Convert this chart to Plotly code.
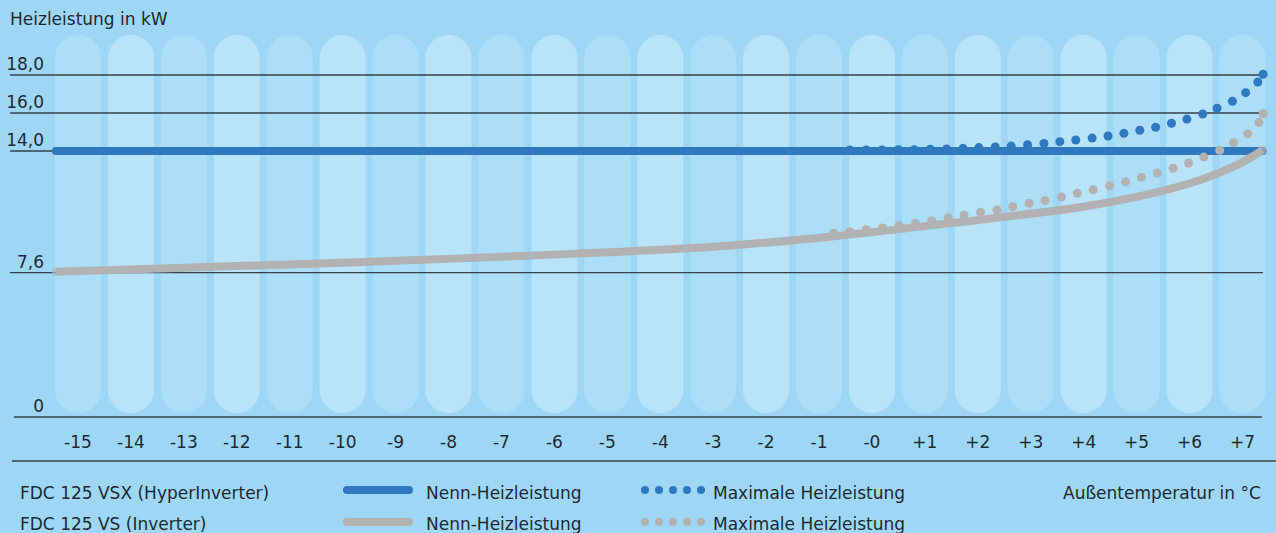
import plotly.graph_objects as go

# ---------------- data ----------------
categories = list(range(-15, 8))
tick_labels = ["-15", "-14", "-13", "-12", "-11", "-10", "-9", "-8", "-7", "-6", "-5",
               "-4", "-3", "-2", "-1", "-0", "+1", "+2", "+3", "+4", "+5", "+6", "+7"]
y_tick_values = [0, 7.6, 14, 16, 18]
y_tick_labels = ["0", "7,6", "14,0", "16,0", "18,0"]

# FDC 125 VSX (HyperInverter) - Nenn-Heizleistung
vsx_nominal_x = [-15.42, 7.38]
vsx_nominal_y = [14.0, 14.0]

# FDC 125 VSX (HyperInverter) - Maximale Heizleistung
vsx_max_x = [-0.42, -0.11, 0.19, 0.50, 0.80, 1.10, 1.41, 1.72, 2.02, 2.33, 2.63, 2.94, 3.25, 3.55,
             3.85, 4.16, 4.46, 4.76, 5.06, 5.36, 5.66, 5.95, 6.25, 6.52, 6.81, 7.06, 7.29, 7.39]
vsx_max_y = [14.05, 14.05, 14.05, 14.07, 14.07, 14.09, 14.11, 14.14, 14.18, 14.21, 14.26, 14.33, 14.40, 14.49,
             14.58, 14.68, 14.79, 14.93, 15.09, 15.25, 15.46, 15.68, 15.95, 16.25, 16.62, 17.07, 17.63, 18.04]

# FDC 125 VS (Inverter) - Nenn-Heizleistung
vs_nominal_x = [-15.42, -13.0, -11.0, -9.0, -7.0, -5.0, -3.0, -0.79, 1.57, 3.93, 5.25, 6.20, 6.82, 7.14, 7.38]
vs_nominal_y = [7.65, 7.86, 8.03, 8.22, 8.43, 8.67, 8.96, 9.49, 10.23, 11.04, 11.74, 12.47, 13.16, 13.63, 14.05]

# FDC 125 VS (Inverter) - Maximale Heizleistung
vs_max_x = [-0.73, -0.42, -0.11, 0.20, 0.51, 0.82, 1.13, 1.44, 1.74, 2.05, 2.36, 2.66, 2.97, 3.27, 3.58,
            3.88, 4.18, 4.49, 4.79, 5.09, 5.39, 5.69, 5.98, 6.27, 6.57, 6.83, 7.10, 7.31, 7.39]
vs_max_y = [9.67, 9.75, 9.86, 9.95, 10.07, 10.19, 10.33, 10.49, 10.63, 10.77, 10.91, 11.07, 11.25, 11.40, 11.58,
            11.77, 11.96, 12.17, 12.38, 12.61, 12.84, 13.09, 13.37, 13.68, 14.04, 14.44, 14.91, 15.51, 15.96]

# ---------------- styling ----------------
W, H = 1276, 533
BG = "#9dd7f5"
COL_LIGHT = "#b8e3f9"
COL_MED = "#acdff7"
BLUE = "#2e79bf"
GRAY = "#b2b2b2"
TEXT = "#1d2a31"
RULE = "#34414a"
FONT = "DejaVu Sans"
FS = 17
DOT = 9

X_RANGE = [-16.4736, 7.6337]
Y_RANGE = [-6.105, 21.947]
PX_PER_X = W / (X_RANGE[1] - X_RANGE[0])
PX_PER_Y = H / (Y_RANGE[1] - Y_RANGE[0])

COL_TOP = 20.10
COL_BOTTOM = 0.21
COL_HALF_W = 0.435

fig = go.Figure()


def px(x):
    return x / W


def py(y):
    return (H - y) / H


shapes = []

# background pill columns (one per category), rounded at both ends
k = 0.5523
hw = COL_HALF_W
ry = hw * PX_PER_X / PX_PER_Y
for c in categories:
    col = COL_LIGHT if c % 2 == 0 else COL_MED
    t, b = COL_TOP, COL_BOTTOM
    path = (
        f"M {c-hw},{b+ry} L {c-hw},{t-ry} "
        f"C {c-hw},{t-ry+k*ry} {c-k*hw},{t} {c},{t} "
        f"C {c+k*hw},{t} {c+hw},{t-ry+k*ry} {c+hw},{t-ry} "
        f"L {c+hw},{b+ry} "
        f"C {c+hw},{b+ry-k*ry} {c+k*hw},{b} {c},{b} "
        f"C {c-k*hw},{b} {c-hw},{b+ry-k*ry} {c-hw},{b+ry} Z"
    )
    shapes.append(dict(type="path", xref="x", yref="y", path=path, fillcolor=col,
                       line=dict(width=0), layer="below"))

# horizontal rules
grid_left, grid_right = -16.285, 7.388
for v in y_tick_values:
    left = -16.21 if v == 0 else grid_left
    right = 7.37 if v == 0 else grid_right
    fig.add_trace(go.Scatter(x=[left, right], y=[v, v], mode="lines",
                             line=dict(color=RULE, width=1.4),
                             hoverinfo="skip", showlegend=False))

# VSX nominal
fig.add_trace(go.Scatter(x=vsx_nominal_x, y=vsx_nominal_y, mode="lines+markers",
                         line=dict(color=BLUE, width=8),
                         marker=dict(color=BLUE, size=8, line=dict(width=0)),
                         hoverinfo="skip", showlegend=False))
# VSX max
fig.add_trace(go.Scatter(x=vsx_max_x, y=vsx_max_y, mode="markers",
                         marker=dict(color=BLUE, size=DOT, line=dict(width=0)),
                         hoverinfo="skip", showlegend=False))
# VS nominal
end_sizes = [8] + [0] * (len(vs_nominal_x) - 2) + [8]
fig.add_trace(go.Scatter(x=vs_nominal_x, y=vs_nominal_y, mode="lines+markers",
                         line=dict(color=GRAY, width=8, shape="spline", smoothing=0.8),
                         marker=dict(color=GRAY, size=end_sizes, line=dict(width=0)),
                         hoverinfo="skip", showlegend=False))
# VS max
fig.add_trace(go.Scatter(x=vs_max_x, y=vs_max_y, mode="markers",
                         marker=dict(color=GRAY, size=DOT, line=dict(width=0)),
                         hoverinfo="skip", showlegend=False))

# separator line under the x tick labels
shapes.append(dict(type="line", xref="paper", yref="paper", x0=px(12), x1=px(1276),
                   y0=py(461), y1=py(461), line=dict(color=RULE, width=1.4)))

annotations = []


def text(t, x, y, anchor="left"):
    annotations.append(dict(text=t, xref="paper", yref="paper", x=px(x), y=py(y),
                            xanchor=anchor, yanchor="middle", showarrow=False,
                            font=dict(family=FONT, size=FS, color=TEXT)))


text("Heizleistung in kW", 8, 19)

legend_rows = [
    ("FDC 125 VSX (HyperInverter)", BLUE, 490, 493),
    ("FDC 125 VS (Inverter)", GRAY, 522, 524),
]
for label, color, sy, ty in legend_rows:
    text(label, 18, ty)
    shapes.append(dict(type="line", xref="paper", yref="paper", x0=px(347), x1=px(409),
                       y0=py(sy), y1=py(sy), line=dict(color=color, width=8)))
    for cx in (347, 409):
        shapes.append(dict(type="circle", xref="paper", yref="paper",
                           x0=px(cx - 4), x1=px(cx + 4), y0=py(sy + 4), y1=py(sy - 4),
                           fillcolor=color, line=dict(width=0)))
    text("Nenn-Heizleistung", 424, ty)
    for cx in (645, 659, 673, 687, 701):
        shapes.append(dict(type="circle", xref="paper", yref="paper",
                           x0=px(cx - 4), x1=px(cx + 4), y0=py(sy + 4), y1=py(sy - 4),
                           fillcolor=color, line=dict(width=0)))
    text("Maximale Heizleistung", 711, ty)

text("Außentemperatur in °C", 1263, 493, anchor="right")

fig.update_layout(
    width=W, height=H,
    margin=dict(l=0, r=0, t=0, b=0),
    paper_bgcolor=BG, plot_bgcolor=BG,
    showlegend=False,
    shapes=shapes,
    annotations=annotations,
    font=dict(family=FONT, size=FS, color=TEXT),
    xaxis=dict(range=X_RANGE, tickmode="array", tickvals=categories, ticktext=tick_labels,
               showgrid=False, zeroline=False, showline=False, ticks="",
               anchor="free", position=py(417), ticklabelstandoff=13,
               tickfont=dict(family=FONT, size=FS, color=TEXT), fixedrange=True),
    yaxis=dict(range=Y_RANGE, tickmode="array", tickvals=y_tick_values, ticktext=y_tick_labels,
               showgrid=False, zeroline=False, showline=False, ticks="",
               anchor="free", position=px(46), ticklabelstandoff=2, ticklabelshift=-11,
               tickfont=dict(family=FONT, size=FS, color=TEXT), fixedrange=True),
)

fig.write_html("out.html", config={"displayModeBar": False},
               post_script="document.body.style.margin='0';document.body.style.overflow='hidden';")
